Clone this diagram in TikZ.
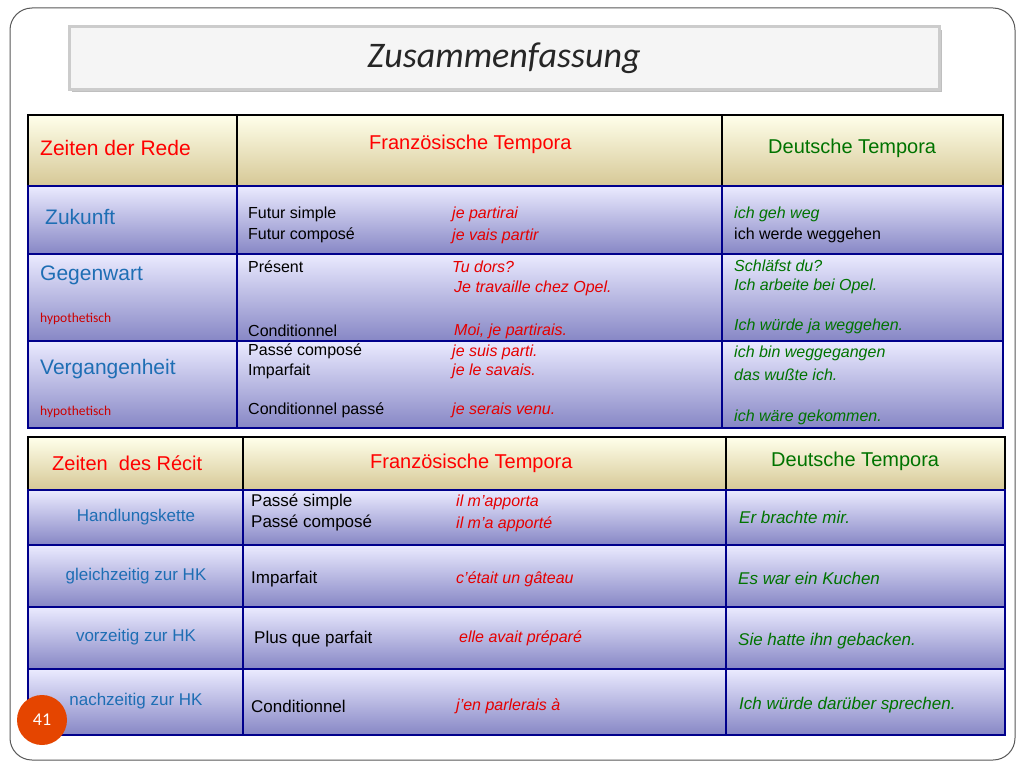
\documentclass[tikz,border=0pt]{standalone}
\usepackage{fontspec}
\usetikzlibrary{shadows}
\setmainfont{Liberation Sans}
\newfontfamily\calib{Carlito}
\definecolor{hblue}{RGB}{30,110,180}
\definecolor{cream}{RGB}{214,200,150}
\begin{document}
\begin{tikzpicture}[x=1pt,y=-1pt,
 cellb/.style={draw=blue!55!black,line width=1.2pt,top color=blue!8,bottom color=blue!35!gray!70!white},
 cellh/.style={draw=black,line width=1.2pt,top color=yellow!8!white,bottom color=cream},
 t/.style={anchor=west,inner sep=0pt,font=\fontsize{16}{17}\selectfont},
 r/.style={t,text=red!90!black,font=\fontsize{16}{17}\selectfont\itshape},
 g/.style={t,text=green!45!black,font=\fontsize{16}{17}\selectfont\itshape},
 b/.style={t,text=hblue},
 hy/.style={anchor=west,inner sep=0pt,text=red!80!black,font=\calib\fontsize{13.5}{14}\selectfont}]
\useasboundingbox (0,0) rectangle (1024,768);
\fill[white] (0,0) rectangle (1024,768);
\draw[gray!70!black,line width=1pt,rounded corners=22pt] (10,8) rectangle (1015,760);
\node[draw=gray!40,line width=3pt,fill=gray!8,minimum width=870pt,minimum height=62pt,drop shadow] (title) at (504,58) {};
\node[font=\calib\itshape\fontsize{36}{38}\selectfont,text=gray!30!black] at (504,58) {Zusammenfassung};
% top table
\foreach \xa/\xb in {28/237,237/722,722/1003}{
  \draw[cellh] (\xa,115) rectangle (\xb,186);
  \draw[cellb] (\xa,186) rectangle (\xb,254);
  \draw[cellb] (\xa,254) rectangle (\xb,341);
  \draw[cellb] (\xa,341) rectangle (\xb,428);}
\node[t,text=red,font=\fontsize{21}{22}\selectfont] (h1) at (40,148) {Zeiten der Rede};
\node[t,text=red,font=\fontsize{20}{21}\selectfont] (h2) at (369,144) {Französische Tempora};
\node[t,text=green!45!black,font=\fontsize{20}{21}\selectfont] (h3) at (768,148) {Deutsche Tempora};
\node[b,font=\fontsize{21}{22}\selectfont] at (45,217) {Zukunft};
\node[b,font=\fontsize{21}{22}\selectfont] at (40,275) {Gegenwart};
\node[hy] at (40,319) {hypothetisch};
\node[b,font=\fontsize{21}{22}\selectfont] at (40,369) {Vergangenheit};
\node[hy] at (40,412) {hypothetisch};
\node[t] at (248,214) {Futur simple};
\node[t] at (248,235) {Futur composé};
\node[t] at (248,267) {Présent};
\node[t] at (248,331) {Conditionnel};
\node[t] at (248,351) {Passé composé};
\node[t] at (248,371) {Imparfait};
\node[t] at (248,410) {Conditionnel passé};
\node[r] at (452,214) {je partirai};
\node[r] at (452,236) {je vais partir};
\node[r] at (452,267) {Tu dors?};
\node[r] at (454,288) {Je travaille chez Opel.};
\node[r] at (454,331) {Moi, je partirais.};
\node[r] at (452,352) {je suis parti.};
\node[r] at (452,371) {je le savais.};
\node[r] at (452,410) {je serais venu.};
\node[g] at (734,214) {ich geh weg};
\node[t] at (734,235) {ich werde weggehen};
\node[g] at (734,266) {Schläfst du?};
\node[g] at (734,286) {Ich arbeite bei Opel.};
\node[g] at (734,326) {Ich würde ja weggehen.};
\node[g] at (734,353) {ich bin weggegangen};
\node[g] at (734,375) {das wußte ich.};
\node[g] at (734,417) {ich wäre gekommen.};
% bottom table
\foreach \xa/\xb in {28/243,243/726,726/1005}{
  \draw[cellh] (\xa,437) rectangle (\xb,490);
  \draw[cellb] (\xa,490) rectangle (\xb,545);
  \draw[cellb] (\xa,545) rectangle (\xb,607);
  \draw[cellb] (\xa,607) rectangle (\xb,669);
  \draw[cellb] (\xa,669) rectangle (\xb,735);}
\node[t,text=red,font=\fontsize{20}{21}\selectfont] at (52,463) {Zeiten\ \ des Récit};
\node[t,text=red,font=\fontsize{20}{21}\selectfont] at (370,463) {Französische Tempora};
\node[t,text=green!45!black,font=\fontsize{20}{21}\selectfont] at (771,461) {Deutsche Tempora};
\node[b,anchor=center,font=\fontsize{17}{18}\selectfont] at (136,517) {Handlungskette};
\node[b,anchor=center,font=\fontsize{17}{18}\selectfont] at (136,576) {gleichzeitig zur HK};
\node[b,anchor=center,font=\fontsize{17}{18}\selectfont] at (136,637) {vorzeitig zur HK};
\node[b,anchor=center,font=\fontsize{17}{18}\selectfont] at (136,701) {nachzeitig zur HK};
\node[t,font=\fontsize{17}{18}\selectfont] at (251,502) {Passé simple};
\node[t,font=\fontsize{17}{18}\selectfont] at (251,523) {Passé composé};
\node[t,font=\fontsize{17}{18}\selectfont] at (251,579) {Imparfait};
\node[t,font=\fontsize{17}{18}\selectfont] at (254,639) {Plus que parfait};
\node[t,font=\fontsize{17}{18}\selectfont] at (251,706) {Conditionnel};
\node[r] at (456,502) {il m’apporta};
\node[r] at (456,524) {il m’a apporté};
\node[r] at (456,579) {c’était un gâteau};
\node[r] at (459,638) {elle avait préparé};
\node[r] at (456,706) {j’en parlerais à};
\node[g,font=\fontsize{17}{18}\selectfont\itshape] at (739,517) {Er brachte mir.};
\node[g,font=\fontsize{17}{18}\selectfont\itshape] at (738,578) {Es war ein Kuchen};
\node[g,font=\fontsize{17}{18}\selectfont\itshape] at (738,641) {Sie hatte ihn gebacken.};
\node[g,font=\fontsize{17}{18}\selectfont\itshape] at (739,705) {Ich würde darüber sprechen.};
\node[circle,fill=orange!60!red!90!black,minimum size=50pt,text=white,font=\calib\fontsize{18}{19}\selectfont] (pg) at (42,720) {41};
\end{tikzpicture}
\end{document}
